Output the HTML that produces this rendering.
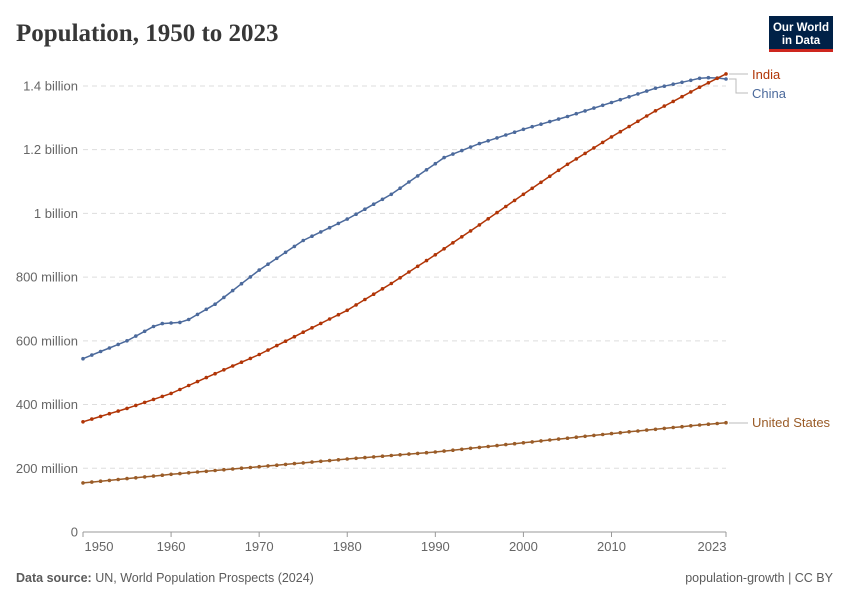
<!DOCTYPE html>
<html><head><meta charset="utf-8"><style>
body{margin:0;background:#fff;width:850px;height:600px;overflow:hidden;font-family:"Liberation Sans",sans-serif}
</style></head><body>
<svg id="s" width="850" height="600" xmlns="http://www.w3.org/2000/svg" font-family="Liberation Sans, sans-serif">
<text x="16" y="41" font-family="Liberation Serif, serif" font-size="25" font-weight="bold" fill="#373737">Population, 1950 to 2023</text>
<rect x="769" y="16" width="64" height="34" fill="#002147"/>
<rect x="769" y="49" width="64" height="3" fill="#ce261e"/>
<text x="801" y="31" font-size="11.5" fill="#fff" text-anchor="middle" font-weight="bold">Our World</text>
<text x="801" y="44" font-size="11.5" fill="#fff" text-anchor="middle" font-weight="bold">in Data</text>
<g id="grid"></g>
<g id="lines"></g>
<text x="16" y="582" font-size="12.5" fill="#5b5b5b"><tspan font-weight="bold">Data source:</tspan> UN, World Population Prospects (2024)</text>
<text x="833" y="582" font-size="12.5" fill="#5b5b5b" text-anchor="end">population-growth | CC BY</text>
</svg>
<script>
var s=document.getElementById('s'),g=document.getElementById('grid'),L=document.getElementById('lines');
function X(y){return 83+(y-1950)*643/73}
function Y(v){return 532-v*0.3186}
var h='';
[[0,'0'],[200,'200 million'],[400,'400 million'],[600,'600 million'],[800,'800 million'],[1000,'1 billion'],[1200,'1.2 billion'],[1400,'1.4 billion']].forEach(function(t){
var y=Y(t[0]);
if(t[0]>0)h+='<line x1="83" x2="726" y1="'+y+'" y2="'+y+'" stroke="#ddd" stroke-dasharray="5,4"/>';
h+='<text x="78" y="'+(y+4.5)+'" font-size="13" fill="#666" text-anchor="end">'+t[1]+'</text>';});
h+='<line x1="83" x2="726" y1="532" y2="532" stroke="#999"/>';
[[1950,99],[1960,X(1960)],[1970,X(1970)],[1980,X(1980)],[1990,X(1990)],[2000,X(2000)],[2010,X(2010)],[2023,712]].forEach(function(t){
var x=X(t[0]);h+='<line x1="'+x+'" x2="'+x+'" y1="532" y2="537" stroke="#999"/>';
h+='<text x="'+t[1]+'" y="551" font-size="13" fill="#666" text-anchor="middle">'+t[0]+'</text>';});
g.innerHTML=h;
function interp(k){var out=[];for(var y=1950;y<=2023;y++){for(var i=0;i<k.length-1;i++){if(y>=k[i][0]&&y<=k[i+1][0]){var f=(y-k[i][0])/(k[i+1][0]-k[i][0]);out.push([y,k[i][1]+f*(k[i+1][1]-k[i][1])]);break;}}}return out}
var series=[
['#4c6a9c',[[1950,544],[1955,600],[1958,645],[1959,654],[1961,658],[1962,667],[1965,715],[1970,822],[1975,915],[1980,982],[1985,1060],[1990,1156],[1991,1175],[1995,1219],[2000,1264],[2005,1304],[2010,1348],[2015,1393],[2020,1424],[2021,1426],[2022,1425],[2023,1422]]],
['#b13507',[[1950,346],[1955,388],[1960,435],[1965,497],[1970,557],[1975,627],[1980,696],[1985,780],[1990,870],[1995,964],[2000,1060],[2005,1154],[2010,1240],[2015,1322],[2020,1396],[2023,1438]]],
['#9a5c28',[[1950,154],[1960,181],[1970,205],[1980,229],[1990,251],[2000,280],[2010,309],[2020,336],[2023,343]]]];
var o='';
series.forEach(function(sr){var p=interp(sr[1]);o+='<polyline fill="none" stroke="'+sr[0]+'" stroke-width="1.5" points="'+p.map(function(a){return X(a[0]).toFixed(1)+','+Y(a[1]).toFixed(1)}).join(' ')+'"/>';
p.forEach(function(a){o+='<circle cx="'+X(a[0]).toFixed(1)+'" cy="'+Y(a[1]).toFixed(1)+'" r="1.8" fill="'+sr[0]+'"/>';});});
o+='<path d="M729 74 H748 M729 79 H736 V93 H748 M729 423 H748" stroke="#bbb" fill="none"/>';
o+='<text x="752" y="79" font-size="13" fill="#b13507">India</text>';
o+='<text x="752" y="98" font-size="13" fill="#4c6a9c">China</text>';
o+='<text x="752" y="427" font-size="13" fill="#9a5c28">United States</text>';
L.innerHTML=o;
</script>
</body></html>
